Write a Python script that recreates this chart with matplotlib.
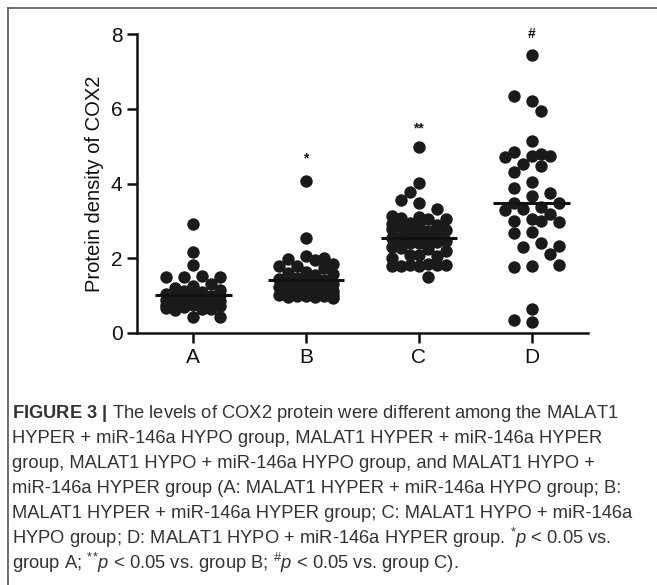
import numpy as np
import matplotlib
matplotlib.use('Agg')
import matplotlib.pyplot as plt
from matplotlib.lines import Line2D

# --- data
groups = ['A', 'B', 'C', 'D']

cox2_A = [2.91, 2.16, 1.82,
          1.52, 1.50, 1.51, 1.49,
          1.32, 1.25, 1.20,
          1.15, 1.10, 1.12, 1.05,
          1.00, 0.98, 0.95, 1.02, 0.96,
          0.90, 0.88, 0.85, 0.92, 0.86, 0.84,
          0.78, 0.75, 0.80, 0.76, 0.74, 0.72, 0.70,
          0.65, 0.62, 0.68, 0.64,
          0.43, 0.42]
cox2_B = [4.07, 2.53, 2.05, 2.02, 1.98, 1.95,
          1.85, 1.80, 1.78, 1.75,
          1.62, 1.60, 1.58, 1.55,
          1.48, 1.45, 1.42, 1.40,
          1.35, 1.32, 1.30, 1.28,
          1.22, 1.20, 1.18, 1.15, 1.12,
          1.08, 1.05, 1.02, 1.00, 0.98, 0.95, 0.93,
          1.03, 0.97, 1.01, 0.99]
cox2_C = [4.98, 4.02, 3.78, 3.48, 3.56, 3.32,
          3.10, 3.08, 3.05, 3.12, 3.06,
          2.95, 2.90, 2.92, 2.88, 2.85,
          2.75, 2.72, 2.70, 2.78,
          2.60, 2.62, 2.58, 2.55,
          2.45, 2.48, 2.42, 2.40, 2.50, 2.44, 2.46,
          2.30, 2.25, 2.28, 2.20,
          2.10, 2.05, 2.08, 2.00,
          1.85, 1.82, 1.80, 1.78, 1.83, 1.81, 1.79,
          1.51]
cox2_D = [7.43, 6.21, 6.34, 5.94, 5.14, 4.74, 4.85, 4.74, 4.80, 4.72,
          4.52, 4.47, 4.30, 4.05, 3.87, 3.66, 3.74, 3.48, 3.47, 3.36,
          3.31, 3.29, 3.18, 3.04, 3.00, 2.98, 3.00, 2.71, 2.67, 2.41,
          2.31, 2.33, 2.11, 1.79, 1.77, 1.82, 0.64, 0.30, 0.35]

group_means = [1.02, 1.43, 2.55, 3.48]
sig_marks = ['', '*', '**', '#']
sig_heights = [np.nan, 4.68, 5.48, 8.0]

caption_lines = [
    r'$\mathbf{FIGURE\ 3\ |}$ The levels of COX2 protein were different among the MALAT1',
    'HYPER + miR-146a HYPO group, MALAT1 HYPER + miR-146a HYPER',
    'group, MALAT1 HYPO + miR-146a HYPO group, and MALAT1 HYPO +',
    'miR-146a HYPER group (A: MALAT1 HYPER + miR-146a HYPO group; B:',
    'MALAT1 HYPER + miR-146a HYPER group; C: MALAT1 HYPO + miR-146a',
    r'HYPO group; D: MALAT1 HYPO + miR-146a HYPER group. ${}^{*}p$ < 0.05 vs.',
    r'group A; ${}^{*}{}^{*}p$ < 0.05 vs. group B; ${}^{\#}p$ < 0.05 vs. group C).',
]

# --- fonts
cap_font = 'Liberation Sans'
plt.rcParams['font.family'] = ['Liberation Sans', 'DejaVu Sans']
plt.rcParams['mathtext.fontset'] = 'custom'
plt.rcParams['mathtext.rm'] = cap_font
plt.rcParams['mathtext.it'] = cap_font + ':italic'
plt.rcParams['mathtext.bf'] = cap_font + ':bold'

W, H = 657, 585
fig = plt.figure(figsize=(W/100, H/100), dpi=100)
ax = fig.add_axes([137/W, 252/H, 451/W, 299/H])
ax.set_xlim(0.5, 4.5)
ax.set_ylim(0, 8)

# pixels per data unit, used to lay the dots out like a swarm
px_x = 451 / 4
px_y = 299 / 8


def swarm_offsets(values, step=9, min_dist=12, max_k=3):
    placed = []
    offsets = []
    for i, v in enumerate(values):
        y = v * px_y
        cands = [0]
        for k in range(1, max_k + 1):
            pair = [-k*step, k*step]
            if i % 2:
                pair = pair[::-1]
            cands += pair

        def mind(c):
            if not placed:
                return np.inf
            return min(np.hypot(c - p[0], y - p[1]) for p in placed)
        best = None
        for c in cands:
            if mind(c) >= min_dist:
                best = c
                break
        if best is None:
            best = max(cands, key=mind)
        placed.append((best, y))
        offsets.append(best / px_x)
    return np.array(offsets)


for i, vals in enumerate([cox2_A, cox2_B, cox2_C, cox2_D]):
    xpos = i + 1
    vals = np.array(vals)
    ax.scatter(xpos + swarm_offsets(vals), vals, s=80, color='#1a1a1a',
               linewidths=0, clip_on=False, zorder=3)
    ax.hlines(group_means[i], xpos - 0.34, xpos + 0.34, color='#111111', lw=2.2, zorder=4)
    if sig_marks[i]:
        ax.text(xpos, sig_heights[i], sig_marks[i], ha='center', va='center',
                fontsize=10, fontweight='bold', color='#111111')

ax.set_xticks(range(1, 5))
ax.set_xticklabels(groups)
ax.set_yticks([0, 2, 4, 6, 8])
for side in ['top', 'right']:
    ax.spines[side].set_visible(False)
for side in ['left', 'bottom']:
    ax.spines[side].set_linewidth(1.8)
    ax.spines[side].set_color('#111111')
ax.tick_params(length=7, width=1.8, labelsize=15, color='#111111', labelcolor='#111111')
ax.set_ylabel('Protein density of COX2', fontsize=14.5, labelpad=5, color='#111111')

# --- caption
for j, line in enumerate(caption_lines):
    fig.text(12/W, 1 - (414 + 24.8*j)/H, line, fontsize=13.2, family=cap_font,
             ha='left', va='center', color='#333333')

# --- frame (top and left only)
fig.add_artist(Line2D([8/W, 1], [1 - 8/H, 1 - 8/H], color='#555555', lw=1.2))
fig.add_artist(Line2D([8/W, 8/W], [0, 1 - 8/H], color='#555555', lw=1.2))

fig.savefig('out.png', dpi=100)
